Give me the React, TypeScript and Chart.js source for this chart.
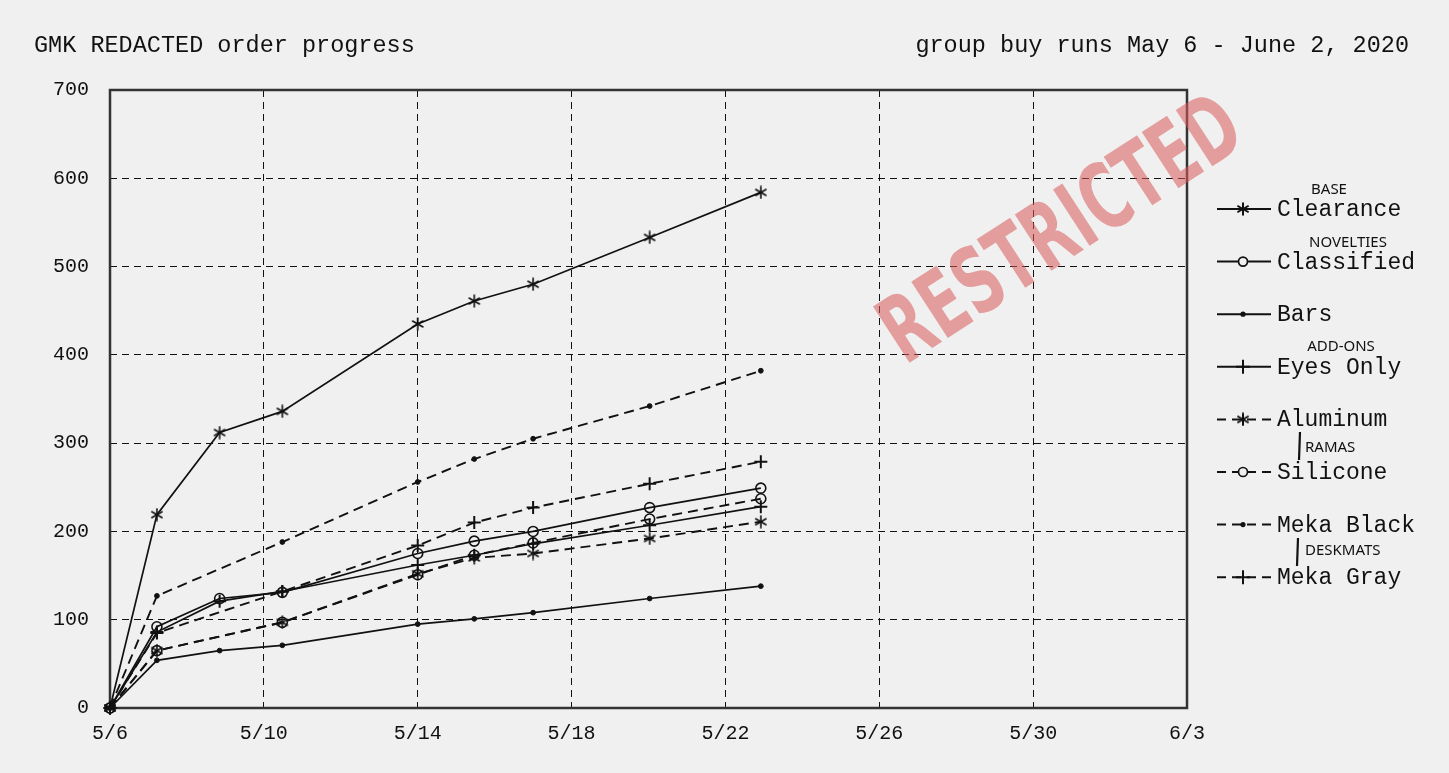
import React, { useEffect, useRef } from 'react';
import { Chart, registerables } from 'chart.js';

Chart.register(...registerables);

// ---- data ----
const SOLID_DAYS = [0, 1.22, 2.85, 4.48, 8, 9.47, 11, 14.03, 16.92];
const DASHED_DAYS = [0, 1.22, 4.48, 8, 9.47, 11, 14.03, 16.92];

const clearance = [0, 219, 312, 336, 435, 461, 480, 533, 584];
const classified = [0, 92, 124, 131, 175, 189, 200, 227, 249];
const bars = [0, 54, 65, 71, 95, 101, 108, 124, 138];
const eyesOnly = [0, 86, 121, 132, 162, 173, 186, 207, 228];
const aluminum = [0, 65, 97, 152, 170, 175, 192, 211];
const silicone = [0, 65, 97, 151, 173, 187, 214, 237];
const mekaBlack = [0, 127, 188, 256, 282, 305, 342, 382];
const mekaGray = [0, 85, 132, 184, 210, 227, 254, 279];

const SERIES_NAMES = ['Clearance', 'Classified', 'Bars', 'Eyes Only', 'Aluminum', 'Silicone', 'Meka Black', 'Meka Gray'];
const X_TICK_LABELS = ['5/6', '5/10', '5/14', '5/18', '5/22', '5/26', '5/30', '6/3'];
const TITLE = 'GMK REDACTED order progress';
const SUBTITLE = 'group buy runs May 6 - June 2, 2020';
const STAMP = 'RESTRICTED';

const MONO = '"Liberation Mono", "DejaVu Sans Mono", monospace';
const INK = '#111111';
const BG = '#f0f0f0';

function makeAsterisk(size: number, lw: number): HTMLCanvasElement {
  const c = document.createElement('canvas');
  c.width = size;
  c.height = size;
  const g = c.getContext('2d')!;
  g.strokeStyle = INK;
  g.lineWidth = lw;
  g.lineCap = 'butt';
  const cx = size / 2;
  const r = size / 2 - 0.5;
  [90, 30, 150].forEach((deg) => {
    const a = (deg * Math.PI) / 180;
    g.beginPath();
    g.moveTo(cx - r * Math.cos(a), cx - r * Math.sin(a));
    g.lineTo(cx + r * Math.cos(a), cx + r * Math.sin(a));
    g.stroke();
  });
  return c;
}

function pts(days: number[], vals: number[]) {
  return vals.map((v, i) => ({ x: days[i], y: v }));
}

export default function App() {
  const ref = useRef<HTMLCanvasElement | null>(null);

  useEffect(() => {
    document.body.style.margin = '0';
    document.body.style.background = BG;
    const star = makeAsterisk(14, 1.6);
    const starLegend = makeAsterisk(14, 2);

    type Sty = { dash: number[]; style: any; radius: number; fill: string; bw: number };
    const DASH = [10, 6];
    const styles: Sty[] = [
      { dash: [], style: star, radius: 7, fill: INK, bw: 1.5 },
      { dash: [], style: 'circle', radius: 5, fill: 'rgba(0,0,0,0)', bw: 1.6 },
      { dash: [], style: 'circle', radius: 2.4, fill: INK, bw: 1 },
      { dash: [], style: 'cross', radius: 6.5, fill: INK, bw: 2 },
      { dash: DASH, style: star, radius: 7, fill: INK, bw: 1.5 },
      { dash: DASH, style: 'circle', radius: 5, fill: 'rgba(0,0,0,0)', bw: 1.6 },
      { dash: DASH, style: 'circle', radius: 2.4, fill: INK, bw: 1 },
      { dash: DASH, style: 'cross', radius: 6.5, fill: INK, bw: 2 },
    ];
    const series = [
      pts(SOLID_DAYS, clearance),
      pts(SOLID_DAYS, classified),
      pts(SOLID_DAYS, bars),
      pts(SOLID_DAYS, eyesOnly),
      pts(DASHED_DAYS, aluminum),
      pts(DASHED_DAYS, silicone),
      pts(DASHED_DAYS, mekaBlack),
      pts(DASHED_DAYS, mekaGray),
    ];

    const datasets = series.map((d, i) => ({
      label: SERIES_NAMES[i],
      data: d,
      borderColor: INK,
      borderWidth: i < 4 ? 1.7 : 1.9,
      borderDash: styles[i].dash,
      pointStyle: styles[i].style,
      pointRadius: styles[i].radius,
      pointBorderWidth: styles[i].bw,
      pointBorderColor: INK,
      pointBackgroundColor: styles[i].fill,
      fill: false,
      tension: 0,
      clip: false as any,
    }));

    const deco = {
      id: 'deco',
      beforeDatasetsDraw(chart: any) {
        const { ctx, chartArea: a } = chart;
        ctx.save();
        ctx.strokeStyle = '#333333';
        ctx.lineWidth = 2.5;
        ctx.setLineDash([]);
        ctx.strokeRect(a.left, a.top, a.right - a.left, a.bottom - a.top);
        ctx.restore();
      },
      afterDraw(chart: any) {
        const ctx: CanvasRenderingContext2D = chart.ctx;
        ctx.save();
        // titles
        ctx.fillStyle = INK;
        ctx.font = `23.5px ${MONO}`;
        ctx.textBaseline = 'middle';
        ctx.textAlign = 'left';
        ctx.fillText(TITLE, 34, 46);
        ctx.textAlign = 'right';
        ctx.fillText(SUBTITLE, 1409, 46);

        // legend
        const y0 = 209;
        const step = 52.6;
        SERIES_NAMES.forEach((name, i) => {
          const y = y0 + i * step;
          const s = styles[i];
          ctx.strokeStyle = INK;
          ctx.lineWidth = 2;
          ctx.setLineDash(s.dash.length ? [9, 6] : []);
          ctx.beginPath();
          ctx.moveTo(1217, y);
          ctx.lineTo(s.dash.length ? 1275 : 1271, y);
          ctx.stroke();
          ctx.setLineDash([]);
          const mx = 1243;
          if (s.style === star) {
            ctx.drawImage(starLegend, mx - 7, y - 7);
          } else if (s.style === 'cross') {
            ctx.lineWidth = 2;
            ctx.beginPath();
            ctx.moveTo(mx, y - 7);
            ctx.lineTo(mx, y + 7);
            ctx.moveTo(mx - 7, y);
            ctx.lineTo(mx + 7, y);
            ctx.stroke();
          } else if (s.radius > 3) {
            ctx.lineWidth = 1.7;
            ctx.fillStyle = BG;
            ctx.beginPath();
            ctx.arc(mx, y, 4.5, 0, Math.PI * 2);
            ctx.fill();
            ctx.stroke();
          } else {
            ctx.fillStyle = INK;
            ctx.beginPath();
            ctx.arc(mx, y, 2.6, 0, Math.PI * 2);
            ctx.fill();
          }
          ctx.fillStyle = INK;
          ctx.font = `23px ${MONO}`;
          ctx.textAlign = 'left';
          ctx.textBaseline = 'middle';
          ctx.fillText(name, 1277, y + 1);
        });

        // handwritten notes
        ctx.fillStyle = '#111';
        ctx.font = '15px "Noto Sans", sans-serif';
        ctx.textBaseline = 'middle';
        ctx.textAlign = 'center';
        ctx.fillText('BASE', 1329, 190);
        ctx.fillText('NOVELTIES', 1348, 243);
        ctx.fillText('ADD-ONS', 1341, 347);
        ctx.textAlign = 'left';
        ctx.fillText('RAMAS', 1305, 448);
        ctx.fillText('DESKMATS', 1305, 551);
        ctx.strokeStyle = '#111';
        ctx.lineWidth = 2.2;
        ctx.beginPath();
        ctx.moveTo(1300, 432);
        ctx.lineTo(1299, 460);
        ctx.moveTo(1298, 538);
        ctx.lineTo(1297, 566);
        ctx.stroke();

        // stamp
        ctx.translate(1064, 234);
        ctx.rotate((-33 * Math.PI) / 180);
        ctx.font = 'bold 92px "DejaVu Sans", sans-serif';
        ctx.textAlign = 'center';
        ctx.textBaseline = 'middle';
        const w = ctx.measureText(STAMP).width;
        ctx.scale(410 / w, 1);
        ctx.fillStyle = 'rgba(218, 90, 90, 0.55)';
        ctx.fillText(STAMP, 0, 0);
        ctx.restore();
      },
    };

    const chart = new Chart(ref.current!, {
      type: 'line',
      data: { datasets: datasets as any },
      options: {
        animation: false,
        responsive: true,
        maintainAspectRatio: false,
        layout: { padding: { top: 90, right: 262, bottom: 0, left: 0 } },
        plugins: { legend: { display: false }, tooltip: { enabled: false }, title: { display: false } },
        scales: {
          x: {
            type: 'linear',
            min: 0,
            max: 28,
            ticks: {
              stepSize: 4,
              padding: 14,
              color: INK,
              font: { family: MONO, size: 20 },
              callback: (v: any) => X_TICK_LABELS[Math.round(Number(v) / 4)] ?? '',
              maxRotation: 0,
            },
            grid: { color: INK, lineWidth: 1, drawTicks: false },
            border: { display: false, dash: [7, 5] },
            afterFit: (s: any) => {
              s.height = 65;
            },
          },
          y: {
            min: 0,
            max: 700,
            ticks: {
              stepSize: 100,
              padding: 21,
              color: INK,
              font: { family: MONO, size: 20 },
            },
            grid: { color: INK, lineWidth: 1, drawTicks: false },
            border: { display: false, dash: [7, 5] },
            afterFit: (s: any) => {
              s.width = 110;
            },
          },
        },
      },
      plugins: [deco],
    });
    return () => chart.destroy();
  }, []);

  return (
    <div style={{ position: 'absolute', left: 0, top: 0, width: 1449, height: 773, background: BG }}>
      <canvas ref={ref} />
    </div>
  );
}
